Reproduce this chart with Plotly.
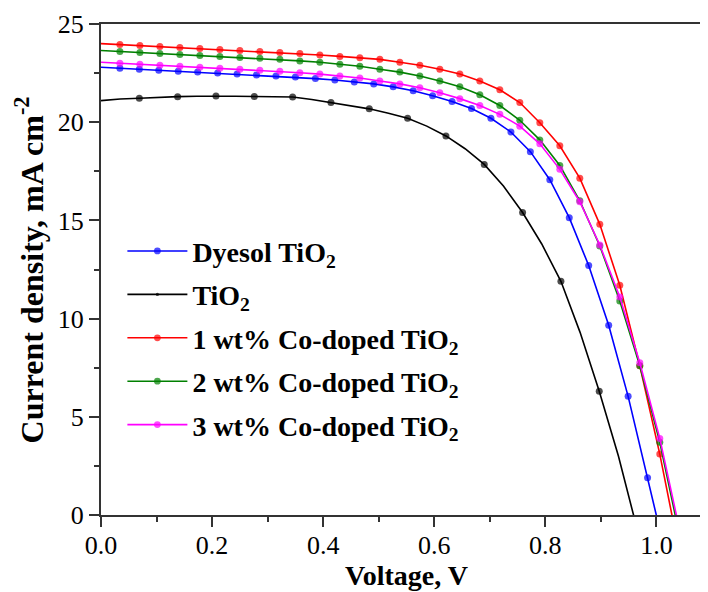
import plotly.graph_objects as go

# J-V curves, voltage in V, current density in mA cm-2
v_blue = [0, 0.034, 0.069, 0.104, 0.139, 0.174, 0.210, 0.245, 0.280, 0.315, 0.350,
          0.386, 0.421, 0.456, 0.491, 0.526, 0.562, 0.597, 0.632, 0.667, 0.702,
          0.738, 0.773, 0.808, 0.843, 0.878, 0.914, 0.949, 0.984, 1.019]
j_dyesol = [22.8, 22.75, 22.7, 22.65, 22.6, 22.55, 22.5, 22.45, 22.4, 22.35, 22.3,
            22.22, 22.15, 22.05, 21.95, 21.8, 21.6, 21.35, 21.05, 20.7, 20.2,
            19.5, 18.5, 17.07, 15.14, 12.7, 9.66, 6.04, 1.9, -2.3]

v_black = [0, 0.0345, 0.069, 0.1035, 0.138, 0.1725, 0.207, 0.2415, 0.276, 0.3105,
           0.345, 0.3795, 0.414, 0.4485, 0.483, 0.5175, 0.552, 0.5865, 0.621, 0.6555,
           0.690, 0.7245, 0.759, 0.7935, 0.828, 0.8625, 0.897, 0.9315, 0.966]
j_tio2 = [21.1, 21.18, 21.22, 21.27, 21.3, 21.32, 21.33, 21.32, 21.31, 21.3,
          21.28, 21.16, 21.0, 20.86, 20.68, 20.46, 20.2, 19.8, 19.3, 18.65,
          17.85, 16.75, 15.4, 13.8, 11.9, 9.3, 6.3, 3.0, -0.8]
black_marker = [0, 0, 1, 0, 1, 0, 1, 0, 1, 0, 1, 0, 1, 0, 1, 0, 1, 0, 1, 0,
                1, 0, 1, 0, 1, 0, 1, 0, 1]

v_doped = [0, 0.034, 0.070, 0.106, 0.142, 0.178, 0.214, 0.250, 0.286, 0.322, 0.358,
           0.394, 0.430, 0.466, 0.502, 0.538, 0.574, 0.610, 0.646, 0.682, 0.718,
           0.754, 0.790, 0.826, 0.862, 0.898, 0.934, 0.970, 1.006, 1.042]
j_co1 = [24.0, 23.95, 23.9, 23.85, 23.8, 23.75, 23.7, 23.65, 23.6, 23.55, 23.5,
         23.42, 23.35, 23.28, 23.2, 23.05, 22.9, 22.7, 22.45, 22.1, 21.65,
         21.0, 19.97, 18.8, 17.15, 14.8, 11.7, 7.6, 3.1, -2.0]
j_co2 = [23.65, 23.6, 23.55, 23.5, 23.45, 23.4, 23.35, 23.3, 23.25, 23.2, 23.12,
         23.05, 22.95, 22.85, 22.7, 22.55, 22.35, 22.1, 21.8, 21.4, 20.85,
         20.1, 19.1, 17.8, 16.0, 13.7, 10.9, 7.6, 3.7, -1.1]
j_co3 = [23.05, 23.0, 22.95, 22.9, 22.85, 22.8, 22.75, 22.7, 22.65, 22.6, 22.52,
         22.45, 22.35, 22.25, 22.1, 21.95, 21.75, 21.5, 21.2, 20.85, 20.4,
         19.8, 18.9, 17.6, 15.95, 13.75, 11.1, 7.75, 3.9, -0.8]

FONT = "Liberation Serif, Times New Roman, serif"
MS = 7

series = [
    ("Dyesol TiO<sub>2</sub>", v_blue, j_dyesol, "#0000ff", None),
    ("TiO<sub>2</sub>", v_black, j_tio2, "#000000", black_marker),
    ("1 wt% Co-doped TiO<sub>2</sub>", v_doped, j_co1, "#ff0000", None),
    ("2 wt% Co-doped TiO<sub>2</sub>", v_doped, j_co2, "#008000", None),
    ("3 wt% Co-doped TiO<sub>2</sub>", v_doped, j_co3, "#ff00ff", None),
]

fig = go.Figure()
for i, (name, vx, jy, col, mk) in enumerate(series):
    if mk is None:
        sizes = [0] + [MS] * (len(vx) - 1)
    else:
        sizes = [MS * m for m in mk]
    fig.add_trace(go.Scatter(
        x=vx, y=jy, name=name, mode="lines+markers", legendgroup="g%d" % i,
        line=dict(color=col, width=1.6),
        marker=dict(color=col, size=sizes, line=dict(width=0)),
        cliponaxis=True,
    ))

axis_common = dict(
    showgrid=False, zeroline=False, showline=True, mirror=True,
    linecolor="#333333", linewidth=2,
    ticks="outside", ticklen=10, tickwidth=2, tickcolor="#333333",
    tickfont=dict(family=FONT, size=26, color="black"),
    ticklabeloverflow="allow",
)

fig.update_layout(
    width=708, height=592,
    margin=dict(l=93, r=2, t=9, b=85),
    paper_bgcolor="white", plot_bgcolor="white",
    font=dict(family=FONT, color="black"),
    xaxis=dict(
        range=[0, 1.1], dtick=0.2, tickformat=".1f",
        ticklabelstandoff=-4,
        minor=dict(dtick=0.1, ticks="outside", ticklen=5, tickwidth=2,
                   tickcolor="#333333"),
        title=dict(text="Voltage, V", standoff=6,
                   font=dict(family=FONT, size=28, color="black", weight="bold")),
        **axis_common,
    ),
    yaxis=dict(
        range=[0, 25], dtick=5,
        minor=dict(dtick=2.5, ticks="outside", ticklen=5, tickwidth=2,
                   tickcolor="#333333"),
        **axis_common,
    ),
    legend=dict(
        x=0.035, y=0.588, xanchor="left", yanchor="top",
        bgcolor="rgba(0,0,0,0)", itemwidth=60,
        font=dict(family=FONT, size=28, color="black", weight="bold"),
        tracegroupgap=4,
    ),
    showlegend=True,
)

# y-axis title as a rotated annotation so it can sit close to the page edge
fig.add_annotation(
    text="<b>Current density, mA cm<sup>-2</sup></b>",
    xref="paper", yref="paper", x=-0.118, y=0.5,
    xanchor="center", yanchor="middle", textangle=-90, showarrow=False,
    font=dict(family=FONT, size=32, color="black"),
)

fig.write_html("out.html")
